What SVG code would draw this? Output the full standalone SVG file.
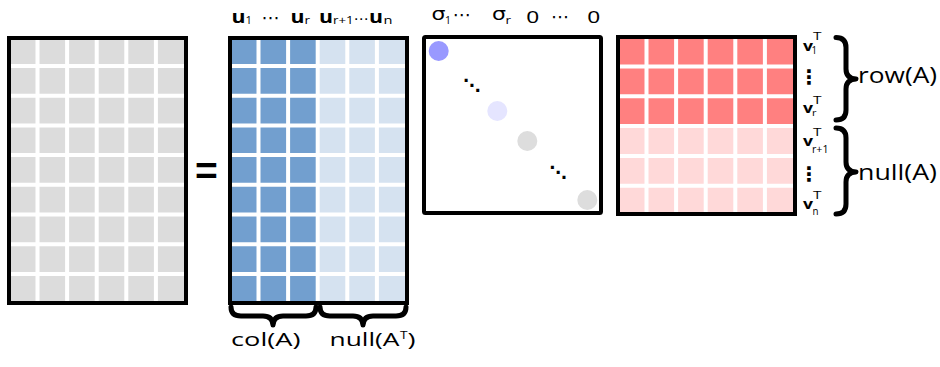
<svg xmlns="http://www.w3.org/2000/svg" width="940" height="367" viewBox="0 0 940 367">
<style>
.frame{fill:none;stroke:#000;stroke-width:4}
.grid{fill:none;stroke:#fff;stroke-width:4}
.lbl{font-family:"Open Sans","Liberation Sans",sans-serif;fill:#000}
.b{font-weight:bold}
.sym{font-family:"DejaVu Sans",sans-serif;fill:#000}
.brace{fill:none;stroke:#000;stroke-width:5;stroke-linecap:round;stroke-linejoin:round}
</style>
<rect width="940" height="367" fill="#fff"/>

<g id="matrixA">
<rect x="11" y="40" width="173" height="261" fill="#dcdcdc"/>
<path class="grid" d="M37.5,40V301M67.1,40V301M96.7,40V301M126.3,40V301M155.9,40V301M11,66H184M11,95.7H184M11,125.4H184M11,155.1H184M11,184.8H184M11,214.5H184M11,244.2H184M11,273.9H184"/>
<rect class="frame" x="9" y="38" width="177" height="265"/>
</g>

<g id="equals">
<text x="195" y="184" style="font-family:'Liberation Sans',sans-serif;font-weight:bold" font-size="39">=</text>
</g>

<g id="matrixU">
<rect x="232" y="40" width="86" height="261" fill="#729fcf"/>
<rect x="318" y="40" width="87" height="261" fill="#d5e2f0"/>
<path class="grid" d="M258.5,40V301M288.1,40V301M317.7,40V301M347.3,40V301M376.9,40V301M232,66H405M232,95.7H405M232,125.4H405M232,155.1H405M232,184.8H405M232,214.5H405M232,244.2H405M232,273.9H405"/>
<rect class="frame" x="230" y="38" width="177" height="265"/>
</g>

<g id="labelsU">
<text class="lbl b" x="231.5" y="23" font-size="18.5" textLength="14" lengthAdjust="spacingAndGlyphs">u</text>
<text class="lbl" x="245.5" y="24" font-size="11.5" textLength="6.5" lengthAdjust="spacingAndGlyphs">1</text>
<text class="sym" x="270.5" y="24" font-size="18" text-anchor="middle">⋯</text>
<text class="lbl b" x="290.5" y="23" font-size="18.5" textLength="14" lengthAdjust="spacingAndGlyphs">u</text>
<text class="lbl" x="304.5" y="24" font-size="11.5" textLength="5.5" lengthAdjust="spacingAndGlyphs">r</text>
<text class="lbl b" x="319" y="23" font-size="18.5" textLength="14" lengthAdjust="spacingAndGlyphs">u</text>
<text class="lbl" x="333" y="24" font-size="11.5" textLength="20.5" lengthAdjust="spacingAndGlyphs">r+1</text>
<text class="sym" x="361" y="23.5" font-size="15" text-anchor="middle">⋯</text>
<text class="lbl b" x="369" y="23" font-size="18.5" textLength="14" lengthAdjust="spacingAndGlyphs">u</text>
<text class="lbl" x="383.5" y="24" font-size="11.5" textLength="9" lengthAdjust="spacingAndGlyphs">n</text>
</g>

<g id="matrixSigma">
<rect x="424" y="37" width="177" height="176" fill="#fff" stroke="#000" stroke-width="4" rx="1.5"/>
<circle cx="438.7" cy="51" r="10" fill="#9999ff"/>
<circle cx="497.3" cy="111" r="10" fill="#e5e5ff"/>
<circle cx="527.3" cy="141" r="10" fill="#dddddd"/>
<circle cx="587.3" cy="200" r="10" fill="#dddddd"/>
<text class="sym" x="472" y="91" font-size="17" font-weight="bold" text-anchor="middle">⋱</text>
<text class="sym" x="558.3" y="178" font-size="17" font-weight="bold" text-anchor="middle">⋱</text>
</g>

<g id="labelsSigma">
<text class="sym" x="431.5" y="19.8" font-size="18.5" textLength="14" lengthAdjust="spacingAndGlyphs">σ</text>
<text class="lbl" x="445" y="23.5" font-size="11.5" textLength="6" lengthAdjust="spacingAndGlyphs">1</text>
<text class="sym" x="461.7" y="20.5" font-size="18" text-anchor="middle">⋯</text>
<text class="sym" x="492" y="19.8" font-size="18.5" textLength="14" lengthAdjust="spacingAndGlyphs">σ</text>
<text class="lbl" x="505.5" y="23.5" font-size="11.5" textLength="5.5" lengthAdjust="spacingAndGlyphs">r</text>
<text x="526.5" y="23" style="font-family:'Liberation Sans',sans-serif" font-size="16.5" textLength="12.5" lengthAdjust="spacingAndGlyphs">0</text>
<text class="sym" x="560" y="22.8" font-size="18" text-anchor="middle">⋯</text>
<text x="587.5" y="23" style="font-family:'Liberation Sans',sans-serif" font-size="16.5" textLength="12.5" lengthAdjust="spacingAndGlyphs">0</text>
</g>

<g id="matrixVT">
<rect x="620" y="39" width="173" height="87" fill="#ff8080"/>
<rect x="620" y="126" width="173" height="86" fill="#ffd9d9"/>
<path class="grid" d="M646.5,39V212M676.1,39V212M705.7,39V212M735.3,39V212M764.9,39V212M620,66.5H793M620,96.3H793M620,126.1H793M620,155.9H793M620,185.7H793"/>
<rect class="frame" x="618" y="37" width="177" height="177"/>
</g>

<g id="labelsV">
<text class="lbl b" x="803" y="50.7" font-size="14" textLength="10" lengthAdjust="spacingAndGlyphs">v</text>
<text class="lbl" x="813" y="40" font-size="11.5" textLength="8.5" lengthAdjust="spacingAndGlyphs">T</text>
<text class="lbl" x="811.5" y="54" font-size="11" textLength="5.5" lengthAdjust="spacingAndGlyphs">1</text>
<text class="sym" x="808.7" y="84" font-size="20" font-weight="bold" text-anchor="middle">⋮</text>
<text class="lbl b" x="803" y="113.3" font-size="14" textLength="10" lengthAdjust="spacingAndGlyphs">v</text>
<text class="lbl" x="813" y="103.5" font-size="11" textLength="8.5" lengthAdjust="spacingAndGlyphs">T</text>
<text class="lbl" x="812" y="116.3" font-size="9.5" textLength="4.5" lengthAdjust="spacingAndGlyphs">r</text>
<text class="lbl b" x="803" y="146" font-size="14" textLength="10" lengthAdjust="spacingAndGlyphs">v</text>
<text class="lbl" x="813" y="136" font-size="11.5" textLength="8.5" lengthAdjust="spacingAndGlyphs">T</text>
<text class="lbl" x="812" y="152.7" font-size="10" textLength="16.5" lengthAdjust="spacingAndGlyphs">r+1</text>
<text class="sym" x="808.7" y="181" font-size="20" font-weight="bold" text-anchor="middle">⋮</text>
<text class="lbl b" x="803" y="209.3" font-size="14" textLength="10" lengthAdjust="spacingAndGlyphs">v</text>
<text class="lbl" x="813" y="199" font-size="11.5" textLength="8.5" lengthAdjust="spacingAndGlyphs">T</text>
<text class="lbl" x="812.5" y="215" font-size="10" textLength="6" lengthAdjust="spacingAndGlyphs">n</text>
</g>

<g id="connectors">
<path class="brace" d="M836,37.5Q846,37.5 846,47.5L846,69Q846,78.5 856,79Q846,79.5 846,89L846,110Q846,120 836,120"/>
<path class="brace" d="M836,128Q846,128 846,138L846,162Q846,171.5 856,172Q846,172.5 846,182L846,204Q846,214 836,214"/>
<path class="brace" d="M231,307Q231,316 241,316L263,316Q272.5,316 273,325Q273.5,316 283,316L306,316Q316,316 316,307"/>
<path class="brace" d="M320,307Q320,316 330,316L353,316Q362.5,316 363,325Q363.5,316 373,316L396,316Q406,316 406,307"/>
</g>

<g id="labelsSpaces">
<text class="lbl" x="858" y="83.3" font-size="21" textLength="79" lengthAdjust="spacingAndGlyphs">row(A)</text>
<text class="lbl" x="858" y="180" font-size="21" textLength="79" lengthAdjust="spacingAndGlyphs">null(A)</text>
<text class="lbl" x="231" y="346" font-size="18" textLength="69.5" lengthAdjust="spacingAndGlyphs">col(A)</text>
<text class="lbl" x="329.5" y="346" font-size="18" textLength="70" lengthAdjust="spacingAndGlyphs">null(A</text>
<text class="lbl" x="400" y="338.5" font-size="11" textLength="7.5" lengthAdjust="spacingAndGlyphs">T</text>
<text class="lbl" x="407.5" y="346" font-size="18" textLength="8" lengthAdjust="spacingAndGlyphs">)</text>
</g>
</svg>
